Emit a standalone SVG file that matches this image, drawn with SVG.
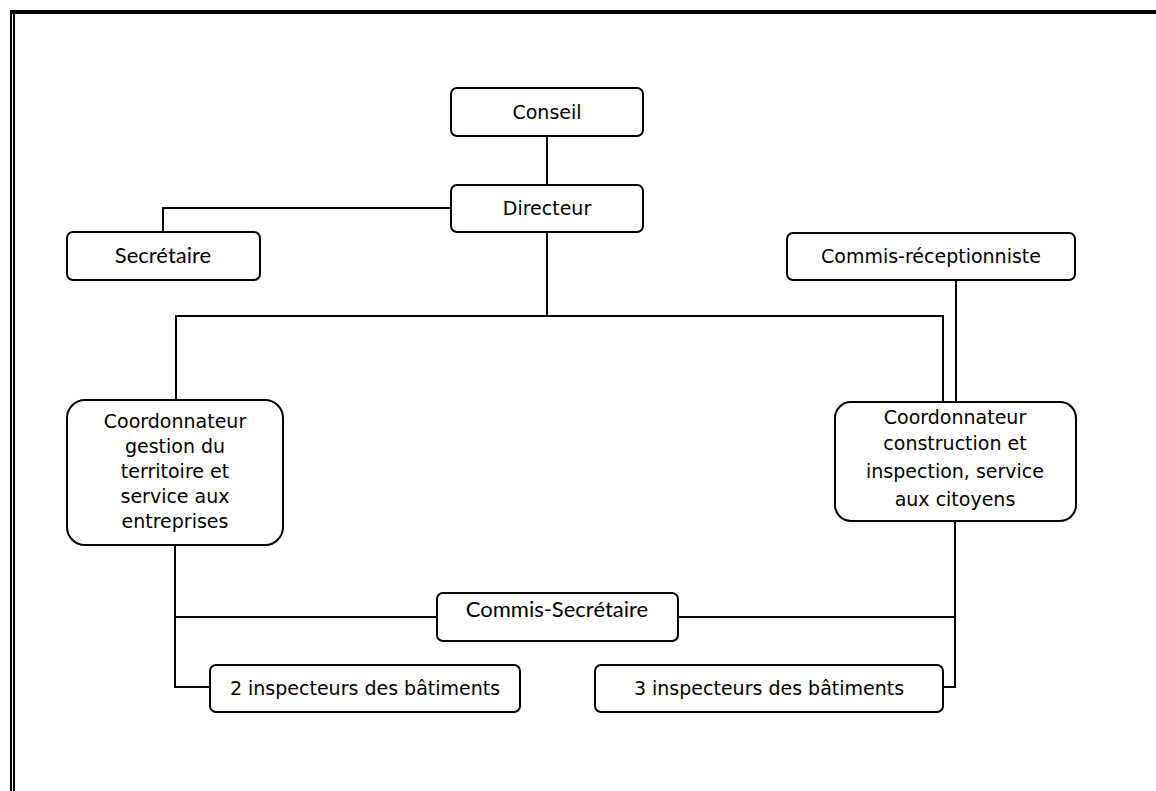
<svg xmlns="http://www.w3.org/2000/svg" width="1156" height="791" viewBox="0 0 1156 791">
<style>
.box{fill:#fff;stroke:#000;stroke-width:2}
.t{font-family:"DejaVu Sans",Verdana,sans-serif;font-size:19px;fill:#000;text-anchor:middle}
.c{font-family:Lato,"Liberation Sans",sans-serif;font-size:22px;fill:#000;text-anchor:middle}
.ln{fill:none;stroke:#000;stroke-width:2}
</style>
<rect width="1156" height="791" fill="#fff"/>
<g id="frame">
<line x1="10" y1="12" x2="1156" y2="12" stroke="#000" stroke-width="4"/>
<line x1="11" y1="10" x2="11" y2="791" stroke="#000" stroke-width="2"/>
<line x1="14" y1="14" x2="14" y2="791" stroke="#000" stroke-width="2"/>
</g>
<g id="connectors">
<path class="ln" d="M547 136V185"/>
<path class="ln" d="M451 208H163V232"/>
<path class="ln" d="M547 232V316"/>
<path class="ln" d="M176 400V316H943V402"/>
<path class="ln" d="M956 280V402"/>
<path class="ln" d="M175 545V687H210"/>
<path class="ln" d="M175 617H437"/>
<path class="ln" d="M678 617H955"/>
<path class="ln" d="M955 521V687H943"/>
</g>
<g id="conseil"><rect class="box" x="451" y="88" width="192" height="48" rx="6"/><text class="t" x="547" y="119">Conseil</text></g>
<g id="directeur"><rect class="box" x="451" y="185" width="192" height="47" rx="6"/><text class="t" x="547" y="215">Directeur</text></g>
<g id="secretaire"><rect class="box" x="67" y="232" width="193" height="48" rx="6"/><text class="c" x="163" y="263">Secrétaire</text></g>
<g id="commis-receptionniste"><rect class="box" x="787" y="233" width="288" height="47" rx="6"/><text class="t" x="931" y="263">Commis-réceptionniste</text></g>
<g id="coord-gestion"><rect class="box" x="67" y="400" width="216" height="145" rx="18"/>
<text class="t" x="175" y="428">Coordonnateur</text>
<text class="t" x="175" y="453">gestion du</text>
<text class="t" x="175" y="478">territoire et</text>
<text class="t" x="175" y="503">service aux</text>
<text class="t" x="175" y="528">entreprises</text></g>
<g id="coord-construction"><rect class="box" x="835" y="402" width="241" height="119" rx="16"/>
<text class="t" x="955" y="424">Coordonnateur</text>
<text class="t" x="955" y="450">construction et</text>
<text class="t" x="955" y="478">inspection, service</text>
<text class="t" x="955" y="506">aux citoyens</text></g>
<g id="commis-secretaire"><rect class="box" x="437" y="593" width="241" height="48" rx="6"/><text class="c" x="557" y="617">Commis-Secrétaire</text></g>
<g id="inspecteurs-2"><rect class="box" x="210" y="665" width="310" height="47" rx="6"/><text class="t" x="365" y="695">2 inspecteurs des bâtiments</text></g>
<g id="inspecteurs-3"><rect class="box" x="595" y="665" width="348" height="47" rx="6"/><text class="t" x="769" y="695">3 inspecteurs des bâtiments</text></g>
</svg>
